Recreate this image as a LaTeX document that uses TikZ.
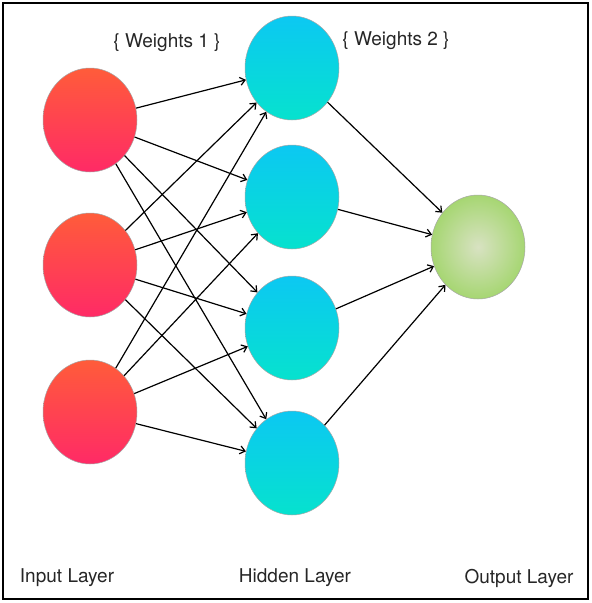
\documentclass[tikz,border=0pt]{standalone}
\usepackage{fontspec}
\setmainfont{TeX Gyre Heros}
\usetikzlibrary{arrows.meta,shapes.geometric}
\definecolor{inTop}{HTML}{FF5C3A}
\definecolor{inBot}{HTML}{FF2A66}
\definecolor{hidTop}{HTML}{0CC8F2}
\definecolor{hidBot}{HTML}{06E2CE}
\definecolor{outIn}{HTML}{D8E2C2}
\definecolor{outOut}{HTML}{A6D672}
\tikzset{
  neuron/.style={ellipse, minimum width=94pt, minimum height=104pt, inner sep=0pt, draw=gray!70, line width=0.5pt},
  innode/.style={neuron, top color=inTop, bottom color=inBot},
  hidnode/.style={neuron, top color=hidTop, bottom color=hidBot},
  outnode/.style={neuron, inner color=outIn, outer color=outOut},
  conn/.style={line width=1.2pt, -{Straight Barb[length=5pt,width=8pt,line width=1.2pt]}},
  lbl/.style={font=\fontsize{19pt}{22pt}\selectfont, text=black!85, inner sep=0pt}
}
\begin{document}
\begin{tikzpicture}[x=1pt,y=-1pt]
\useasboundingbox (0,0) rectangle (592,603);
\draw[line width=2pt] (3,3) rectangle (588,599);
\node[innode] (i1) at (90,120) {};
\node[innode] (i2) at (90,265) {};
\node[innode] (i3) at (90,412) {};
\node[hidnode] (h1) at (292,68) {};
\node[hidnode] (h2) at (292,197) {};
\node[hidnode] (h3) at (292,328) {};
\node[hidnode] (h4) at (292,463) {};
\node[outnode] (o) at (478,247) {};
\foreach \i in {i1,i2,i3}{
  \foreach \h in {h1,h2,h3,h4}{
    \draw[conn] (\i) -- (\h);
  }
}
\foreach \h in {h1,h2,h3,h4}{
  \draw[conn] (\h) -- (o);
}
\node[lbl] (w1) at (167,43) {\{ Weights 1 \}};
\node[lbl] (w2) at (396,41) {\{ Weights 2 \}};
\node[lbl] (l1) at (67,578) {Input Layer};
\node[lbl] (l2) at (295,578) {Hidden Layer};
\node[lbl] (l3) at (519,578) {Output Layer};
\end{tikzpicture}
\end{document}
